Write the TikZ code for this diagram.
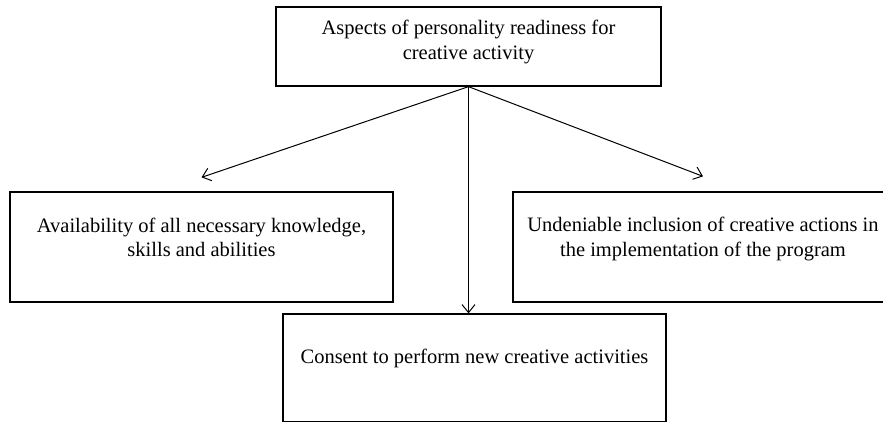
\documentclass[tikz,border=0pt]{standalone}
\usepackage{fontspec}
\setmainfont{Liberation Serif}
\usetikzlibrary{arrows.meta}

\tikzset{
    aspectbox/.style={draw, line width=1.3pt, inner sep=0pt},
    boxtext/.style={align=center, anchor=north, inner sep=0pt, font=\fontsize{20.5}{24.5}\selectfont}
}

\begin{document}
\begin{tikzpicture}[x=1pt, y=-1pt, >={Straight Barb[length=8pt,width=13pt]}]
    \useasboundingbox (0,0) rectangle (883,421);
    \clip (0,0) rectangle (883,421);

    % Boxes
    \node[aspectbox, minimum width=385, minimum height=79,
        label={[boxtext, yshift=-14pt]north:Aspects of personality readiness for\\creative activity}]
        (aspects) at (468.5,46.5) {};
    \node[aspectbox, minimum width=383, minimum height=110,
        label={[boxtext, yshift=-26.5pt]north:Availability of all necessary knowledge,\\skills and abilities}]
        (knowledge) at (201.5,247) {};
    \node[aspectbox, minimum width=380, minimum height=110,
        label={[boxtext, yshift=-26pt]north:Undeniable inclusion of creative actions in\\the implementation of the program}]
        (inclusion) at (703,247) {};
    \node[aspectbox, minimum width=383, minimum height=108,
        label={[boxtext, yshift=-36pt]north:Consent to perform new creative activities}]
        (consent) at (474.5,368) {};

    % Arrows
    \draw[->, line width=1pt] (aspects.south) -- ([yshift=14pt]knowledge.north);
    \draw[->, line width=1pt] (aspects.south) -- (aspects.south |- consent.north);
    \draw[->, line width=1pt] (aspects.south) -- ([yshift=15pt]inclusion.north);

\end{tikzpicture}
\end{document}
